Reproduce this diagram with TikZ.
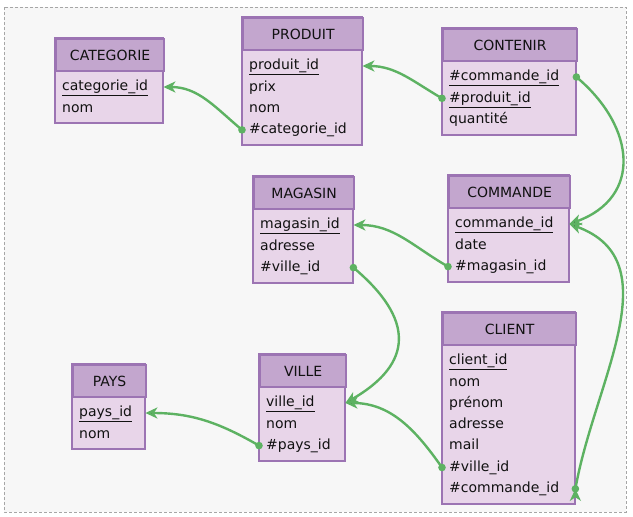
\documentclass[tikz,border=0pt]{standalone}
\usepackage{fontspec}
\setmainfont{DejaVu Sans}
\usetikzlibrary{arrows.meta}

\definecolor{entete}{HTML}{C3A6CE}
\definecolor{corps}{HTML}{E8D5E9}
\definecolor{bord}{HTML}{9C74B3}
\definecolor{lien}{HTML}{5DB262}
\definecolor{fond}{HTML}{F7F7F7}
\definecolor{encre}{HTML}{111111}

\tikzset{
  titre/.style={draw=bord, fill=entete, line width=2.2pt, minimum height=32pt,
    inner sep=0pt, anchor=north west, text=encre, font=\fontsize{14}{16}\selectfont},
  champ/.style={minimum height=21.3pt, inner xsep=7pt, inner ysep=0pt, anchor=west,
    align=left, text height=10.5pt, text depth=3pt, text=encre,
    font=\fontsize{14}{16}\selectfont},
  boite/.style={draw=bord, fill=corps, line width=2.2pt},
  fk/.style={draw=lien, line width=2.4pt, -{Stealth[length=12pt,width=11pt,inset=3.5pt]}},
  cadre/.style={draw=black!35, fill=fond, dash pattern=on 3pt off 2pt, line width=0.6pt}
}

% nom, x, y, largeur, titre, champs
\newcommand\entite[6]{%
  \foreach \f [count=\i] in {#6} {\xdef\nbchamps{\i}}
  \pgfmathsetmacro\largeur{#4-14}
  \draw[boite] ({#2},{-#3}) rectangle ({#2+#4},{-#3-64-(\nbchamps-1)*21.3});
  \node[titre, minimum width=#4pt] (#1) at ({#2},{-#3}) {#5};
  \foreach \f [count=\i] in {#6}
    \node[champ, text width=\largeur pt] (#1-\i) at ({#2},{-#3-49-(\i-1)*21.3}) {\f};
}

\begin{document}
\begin{tikzpicture}[x=1pt,y=1pt]
  \useasboundingbox (0,0) rectangle (633,-517);
  \draw[cadre] (4,-7) rectangle (626,-512);

  \entite{categorie}{55}{38}{108}{CATEGORIE}{\underline{categorie\_id}, nom}
  \entite{produit}{242}{17}{120}{PRODUIT}{\underline{produit\_id}, prix, nom, \#categorie\_id}
  \entite{contenir}{442}{28}{134}{CONTENIR}{\underline{\#commande\_id}, \underline{\#produit\_id}, quantité}
  \entite{magasin}{253}{176}{100}{MAGASIN}{\underline{magasin\_id}, adresse, \#ville\_id}
  \entite{commande}{448}{175}{121}{COMMANDE}{\underline{commande\_id}, date, \#magasin\_id}
  \entite{client}{442}{312}{133}{CLIENT}{\underline{client\_id}, nom, prénom, adresse, mail, \#ville\_id, \#commande\_id}
  \entite{pays}{72}{364}{73}{PAYS}{\underline{pays\_id}, nom}
  \entite{ville}{259}{354}{86}{VILLE}{\underline{ville\_id}, nom, \#pays\_id}

  % cles etrangeres
  \path[fk]
  (produit-4.west) edge[out=140, in=0] (categorie-1.east)
  (contenir-2.west) edge[out=150, in=0] (produit-1.east)
  (contenir-1.east) edge[out=-40, in=20, looseness=1.35] (commande-1.east)
  (commande-3.west) edge[out=150, in=0] (magasin-1.east)
  (magasin-3.east) edge[out=-40, in=30, looseness=1.5] (ville-1.east)
  (ville-3.west) edge[out=150, in=0] (pays-1.east)
  (client-6.west) edge[out=125, in=0] (ville-1.east)
  (client-7.east) edge[out=80, in=-20, looseness=1.05] (commande-1.east)
  ;
  \foreach \a in {produit-4.west, contenir-2.west, contenir-1.east, commande-3.west,
                  magasin-3.east, ville-3.west, client-6.west, client-7.east}
    \fill[lien] (\a) circle (3.8pt);
\end{tikzpicture}
\end{document}
